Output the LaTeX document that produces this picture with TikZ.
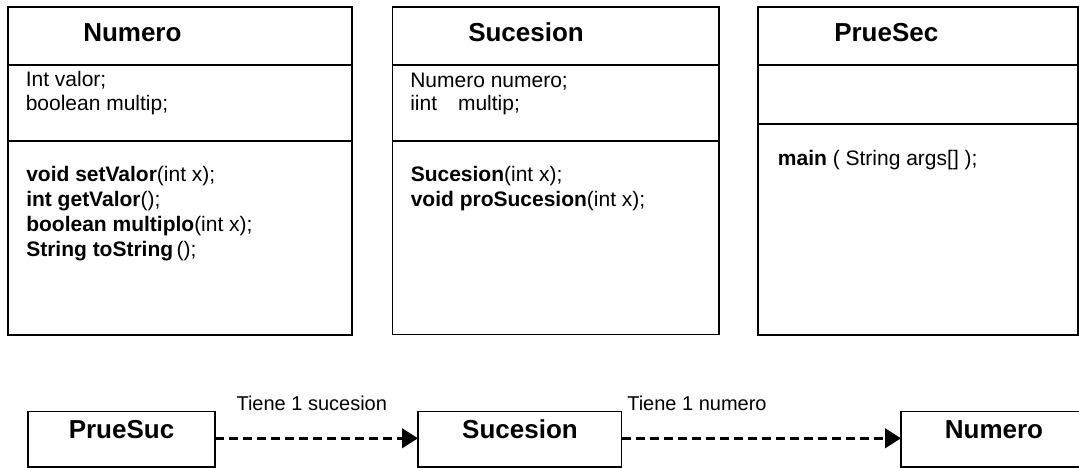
\documentclass[tikz,border=0pt]{standalone}
\usepackage{fontspec}
\setmainfont{Liberation Sans}
\usetikzlibrary{arrows.meta,fit}
\begin{document}
\begin{tikzpicture}[x=0.75pt,y=-0.75pt,
  box/.style={draw,line width=1pt,inner sep=0pt,outer sep=0pt},
  divider/.style={line width=1pt},
  ttl/.style={anchor=base west,inner sep=0pt,font=\fontsize{19.5}{23}\selectfont\bfseries},
  ttlc/.style={anchor=base,inner sep=0pt,font=\fontsize{19.5}{23}\selectfont\bfseries},
  body/.style={anchor=base west,inner sep=0pt,font=\fontsize{15.75}{18}\selectfont},
  lbl/.style={anchor=base west,inner sep=0pt,font=\fontsize{15}{18}\selectfont},
  dep/.style={line width=2.5pt,dash pattern=on 6.75pt off 3.75pt,
              -{Triangle[length=12pt,width=14.5pt]}}]
\useasboundingbox (0,0) rectangle (1079,468);

% ---- class Numero
\node[box,fit={(8,7) (352,335)}] (numero) {};
\draw[divider] (numero.west |- 0,65) -- (numero.east |- 0,65);
\draw[divider] (numero.west |- 0,141) -- (numero.east |- 0,141);
\node[ttl] (numeroT) at (83,41.7) {Numero};
\node[body] (numeroA1) at (25.5,86.7) {Int valor;};
\node[body] (numeroA2) at (25.5,110) {boolean multip;};
\node[body] (numeroM1) at (26,181.5) {\textbf{void setValor}(int x);};
\node[body] (numeroM2) at (26,206.5) {\textbf{int getValor}();};
\node[body] (numeroM3) at (26,231.5) {\textbf{boolean multiplo}(int x);};
\node[body] (numeroM4) at (26,256.5) {\textbf{String toString}\,();};

% ---- class Sucesion
\node[box,fit={(392.7,7) (719,334.5)}] (sucesion) {};
\draw[divider] (sucesion.west |- 0,65) -- (sucesion.east |- 0,65);
\draw[divider] (sucesion.west |- 0,141) -- (sucesion.east |- 0,141);
\node[ttl] (sucesionT) at (468,41.7) {Sucesion};
\node[body] (sucesionA1) at (410,87) {Numero numero;};
\node[body] (sucesionA2) at (410,110) {iint\hspace{15.7pt}multip;};
\node[body] (sucesionM1) at (410.5,181.5) {\textbf{Sucesion}(int x);};
\node[body] (sucesionM2) at (410.5,206.5) {\textbf{void proSucesion}(int x);};

% ---- class PrueSec
\node[box,fit={(758,7) (1078,335)}] (pruesec) {};
\draw[divider] (pruesec.west |- 0,65) -- (pruesec.east |- 0,65);
\draw[divider] (pruesec.west |- 0,124) -- (pruesec.east |- 0,124);
\node[ttl] (pruesecT) at (834,41.7) {PrueSec};
\node[body] (pruesecM1) at (777.7,165) {\textbf{main} ( String args[] );};

% ---- bottom relation diagram
\node[box,fit={(28,411.7) (215,467)}] (pruesuc) {};
\node[box,fit={(418,411.7) (621.7,467)}] (sucB) {};
\node[box,fit={(901,411.7) (1090,467)}] (numB) {};
\node[ttlc] (pruesucT) at (121.5,438) {PrueSuc};
\node[ttlc] (sucBT) at (520,438) {Sucesion};
\node[ttlc] (numBT) at (994,438) {Numero};

\draw[dep] ([yshift=0.8pt]pruesuc.east) -- ([yshift=0.8pt]sucB.west);
\draw[dep] ([yshift=0.8pt]sucB.east) -- ([yshift=0.8pt]numB.west);

\node[lbl] (lab1) at (236.3,410) {Tiene 1 sucesion};
\node[lbl] (lab2) at (627,410) {Tiene 1 numero};
\end{tikzpicture}
\end{document}
